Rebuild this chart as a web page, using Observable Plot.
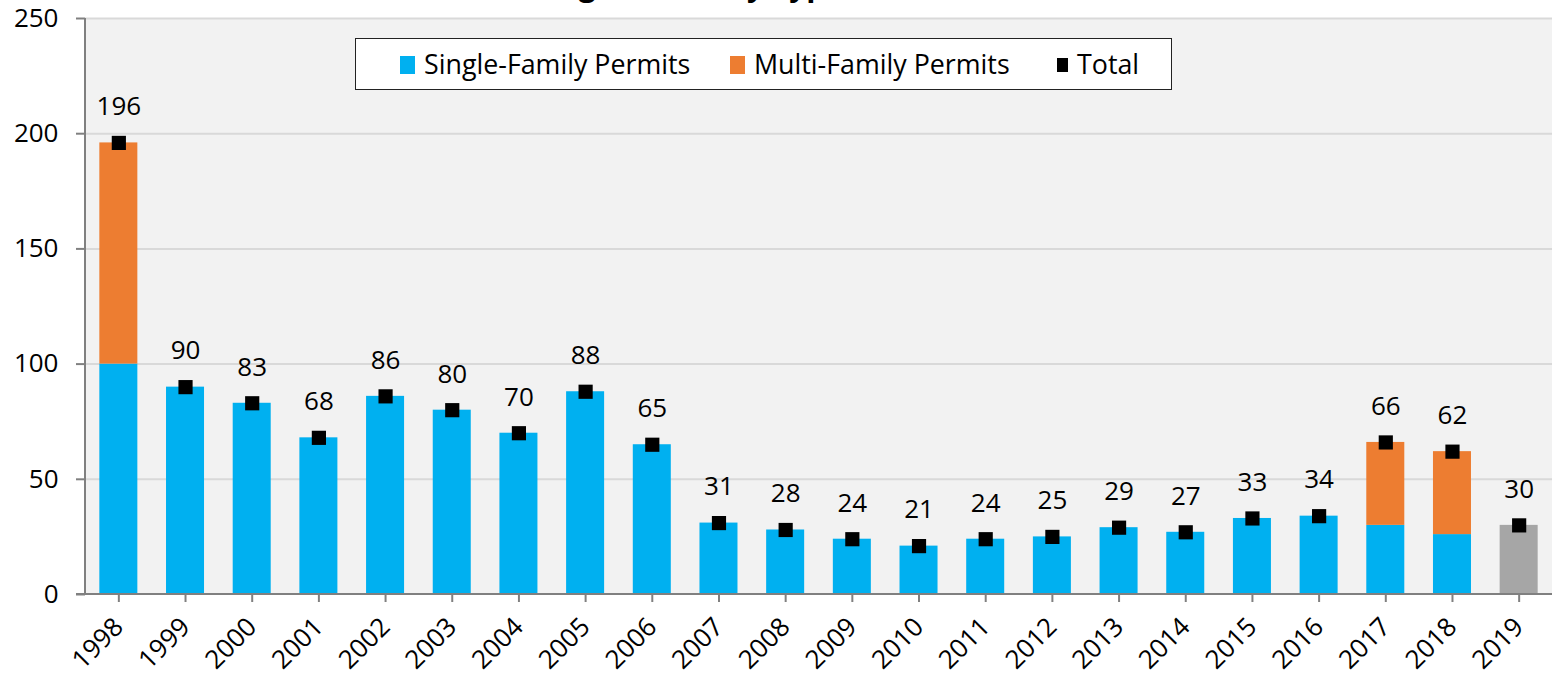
<!DOCTYPE html>
<html>
<head>
<meta charset="utf-8">
<script src="https://cdn.jsdelivr.net/npm/d3@7"></script>
<script src="https://cdn.jsdelivr.net/npm/@observablehq/plot@0.6"></script>
<style>
  html, body { margin: 0; padding: 0; background: #fff; overflow: hidden; }
  body { width: 1552px; height: 677px; position: relative; font-family: "Open Sans", sans-serif; }
  #title { position: absolute; right: 709px; top: -30px; font: bold 30px "Open Sans", sans-serif; line-height: 30px; white-space: nowrap; color: #000; }
  #legend { position: absolute; left: 355px; top: 38px; width: 817px; height: 52px; box-sizing: border-box; border: 1.5px solid #222; background: #fff; font-size: 26.8px; color: #000; }
  #legend .item { position: absolute; top: 0; height: 50px; line-height: 50px; white-space: nowrap; }
  #legend .sw { display: inline-block; vertical-align: middle; margin-right: 9px; position: relative; top: -2px; }
  #chart { position: absolute; left: 0; top: 0; }
</style>
</head>
<body>
<div id="chart"></div>
<div id="title">Residential Building Permits by Type</div>
<div id="legend">
  <div class="item" style="left:44px"><span class="sw" style="width:15px;height:18px;background:#00b0f0"></span>Single-Family Permits</div>
  <div class="item" style="left:374px"><span class="sw" style="width:15px;height:18px;background:#ed7d31"></span>Multi-Family Permits</div>
  <div class="item" style="left:701px"><span class="sw" style="width:11px;height:14px;background:#000"></span>Total</div>
</div>
<script>
const years = ["1998","1999","2000","2001","2002","2003","2004","2005","2006","2007","2008","2009","2010","2011","2012","2013","2014","2015","2016","2017","2018","2019"];
const singleFamily = [100, 90, 83, 68, 86, 80, 70, 88, 65, 31, 28, 24, 21, 24, 25, 29, 27, 33, 34, 30, 26, 0];
const multiFamily  = [96, 0, 0, 0, 0, 0, 0, 0, 0, 0, 0, 0, 0, 0, 0, 0, 0, 0, 0, 36, 36, 0];
const projected    = [0, 0, 0, 0, 0, 0, 0, 0, 0, 0, 0, 0, 0, 0, 0, 0, 0, 0, 0, 0, 0, 30];
const totals       = [196, 90, 83, 68, 86, 80, 70, 88, 65, 31, 28, 24, 21, 24, 25, 29, 27, 33, 34, 66, 62, 30];
const yTicks = [0, 50, 100, 150, 200, 250];

const types = ["Single-Family Permits", "Multi-Family Permits", "Projected"];
const colors = ["#00b0f0", "#ed7d31", "#a6a6a6"];

const stacked = [];
years.forEach((yr, i) => {
  stacked.push({year: yr, type: types[0], value: singleFamily[i]});
  stacked.push({year: yr, type: types[1], value: multiFamily[i]});
  stacked.push({year: yr, type: types[2], value: projected[i]});
});
const totalData = years.map((yr, i) => ({year: yr, total: totals[i]}));

const axisLines = (index, scales, values, dims) => {
  const g = d3.create("svg:g");
  const x0 = dims.marginLeft, y0 = dims.height - dims.marginBottom;
  g.append("line").attr("x1", x0).attr("x2", x0).attr("y1", dims.marginTop).attr("y2", y0)
    .attr("stroke", "#808080").attr("stroke-width", 2);
  g.append("line").attr("x1", x0 - 9).attr("x2", dims.width).attr("y1", y0).attr("y2", y0)
    .attr("stroke", "#808080").attr("stroke-width", 2);
  return g.node();
};

const chart = Plot.plot({
  width: 1552,
  height: 677,
  marginLeft: 85,
  marginRight: 0,
  marginTop: 18,
  marginBottom: 83,
  style: {fontFamily: "'Open Sans', sans-serif", background: "transparent", overflow: "visible"},
  x: {domain: years, paddingInner: 0.43, paddingOuter: 0.215, round: false, label: null},
  y: {domain: [0, 250], label: null},
  color: {domain: types, range: colors},
  marks: [
    Plot.frame({fill: "#f2f2f2", stroke: null}),
    Plot.ruleY(yTicks.filter(d => d > 0), {stroke: "#d9d9d9", strokeWidth: 2}),
    Plot.barY(stacked, {x: "year", y: "value", fill: "type"}),
    axisLines,
    Plot.axisY(yTicks, {tickSize: 9, tickPadding: 18, fontSize: 26, stroke: "#808080", strokeWidth: 2, fill: "#000", label: null}),
    Plot.axisX({tickSize: 8, tickRotate: -45, tickPadding: 20, fontSize: 26, stroke: "#808080", strokeWidth: 2, fill: "#000", label: null}),
    Plot.dot(totalData, {x: "year", y: "total", symbol: "square", r: 8, fill: "#000", stroke: null}),
    Plot.text(totalData, {x: "year", y: "total", text: d => String(d.total), dy: -36, fontSize: 26, fill: "#000"})
  ]
});
document.getElementById("chart").appendChild(chart);
</script>
</body>
</html>
